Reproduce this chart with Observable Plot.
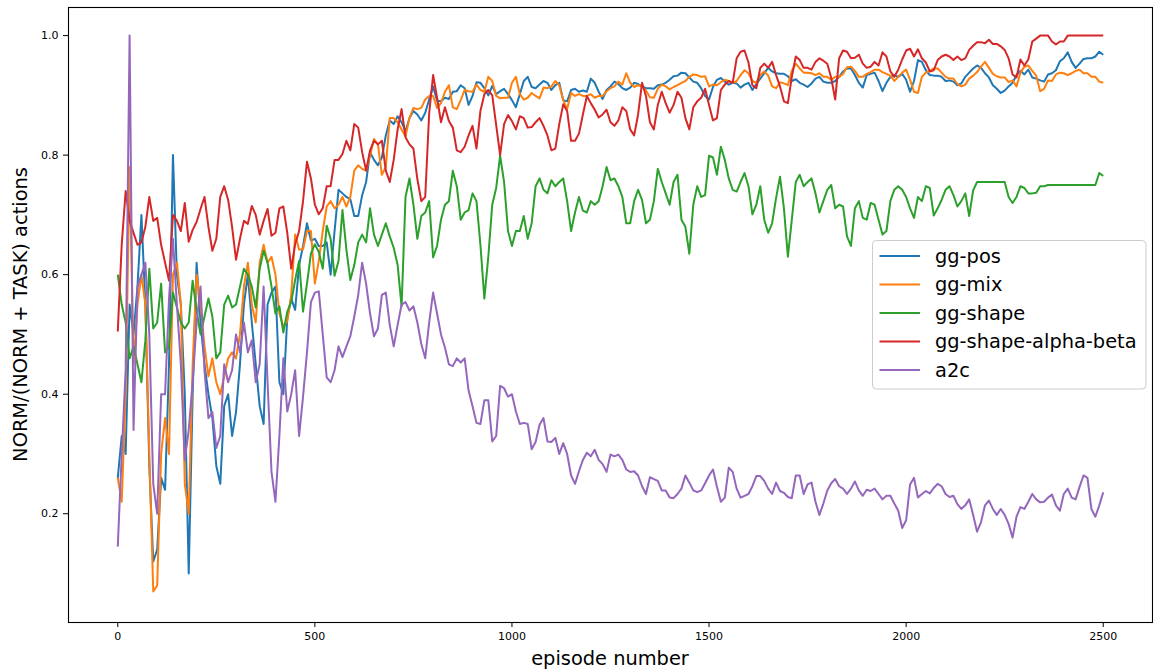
<!DOCTYPE html>
<html>
<head>
<meta charset="utf-8">
<script src="https://cdn.jsdelivr.net/npm/d3@7"></script>
<script src="https://cdn.jsdelivr.net/npm/@observablehq/plot@0.6"></script>
<style>
  html, body { margin: 0; padding: 0; background: #fff; }
  #chart svg { display: block; }
</style>
</head>
<body>
<div id="chart"></div>
<script>
// One sample every 10 episodes, 0 to 2500.
const episodes = d3.range(0, 2501, 10);

const seriesNames = ["gg-pos", "gg-mix", "gg-shape", "gg-shape-alpha-beta", "a2c"];
const seriesColors = ["#1f77b4", "#ff7f0e", "#2ca02c", "#d62728", "#9467bd"];

const xTicks = [0, 500, 1000, 1500, 2000, 2500];
const yTicks = [0.2, 0.4, 0.6, 0.8, 1.0];

// Fraction of NORM actions, one row per 100 episodes.
const ggPos = [
  .26, .33, .30, .55, .50, .58, .70, .55, .28, .12,
  .14, .26, .24, .45, .80, .60, .55, .40, .10, .40,
  .62, .52, .45, .40, .36, .28, .25, .38, .40, .33,
  .37, .45, .55, .60, .52, .45, .38, .35, .55, .57,
  .58, .42, .40, .528, .56, .541, .616, .648, .686, .657,
  .66, .648, .648, .654, .60, .673, .742, .736, .73, .726,
  .698, .698, .733, .755, .805, .792, .783, .796, .833, .858,
  .852, .865, .855, .84, .862, .874, .868, .858, .871, .893,
  .915, .891, .89, .896, .894, .906, .907, .917, .912, .884,
  .899, .922, .921, .912, .90, .916, .902, .907, .911, .902,
  .892, .88, .902, .924, .931, .914, .912, .918, .924, .921,
  .909, .917, .921, .892, .89, .909, .911, .906, .908, .906,
  .928, .921, .906, .894, .909, .915, .923, .919, .912, .909,
  .913, .921, .919, .915, .912, .912, .911, .917, .918, .921,
  .926, .932, .933, .938, .937, .93, .923, .921, .912, .899,
  .893, .914, .926, .929, .923, .918, .921, .92, .913, .918,
  .921, .909, .919, .928, .937, .946, .94, .937, .936, .936,
  .932, .924, .927, .921, .918, .914, .92, .928, .931, .923,
  .921, .921, .924, .931, .94, .945, .945, .934, .921, .913,
  .934, .936, .938, .924, .907, .921, .931, .934, .931, .936,
  .926, .906, .924, .959, .956, .942, .934, .933, .933, .931,
  .924, .925, .923, .917, .92, .931, .938, .945, .95, .946,
  .937, .93, .917, .911, .904, .908, .915, .921, .934, .941,
  .935, .943, .93, .928, .925, .923, .935, .937, .942, .957,
  .962, .972, .956, .946, .953, .961, .962, .962, .965, .973,
  .968
];

const ggMix = [
  .26, .22, .40, .78, .45, .55, .60, .55, .30, .07,
  .08, .30, .36, .30, .60, .62, .55, .25, .20, .45,
  .60, .55, .48, .43, .46, .42, .40, .43, .46, .47,
  .46, .50, .58, .62, .55, .52, .62, .65, .62, .63,
  .60, .535, .513, .522, .566, .667, .642, .642, .673, .673,
  .585, .623, .673, .714, .723, .711, .717, .73, .714, .73,
  .774, .783, .777, .774, .799, .827, .818, .767, .78, .862,
  .862, .855, .843, .831, .862, .879, .877, .879, .893, .899,
  .899, .879, .887, .906, .917, .88, .877, .892, .909, .907,
  .906, .918, .909, .906, .931, .924, .899, .895, .896, .896,
  .921, .931, .902, .893, .896, .904, .899, .895, .913, .912,
  .915, .924, .917, .892, .877, .904, .899, .902, .899, .899,
  .902, .896, .899, .899, .907, .912, .915, .923, .918, .937,
  .921, .914, .917, .915, .908, .897, .896, .911, .918, .915,
  .91, .914, .917, .921, .924, .931, .935, .934, .931, .932,
  .915, .918, .917, .922, .926, .924, .921, .924, .934, .942,
  .937, .924, .921, .934, .94, .933, .915, .912, .922, .92,
  .917, .941, .953, .945, .938, .938, .937, .934, .937, .931,
  .931, .926, .931, .931, .936, .947, .948, .941, .931, .931,
  .936, .939, .943, .943, .939, .936, .933, .924, .931, .938,
  .943, .926, .906, .904, .931, .938, .941, .945, .945, .938,
  .931, .928, .928, .919, .915, .918, .928, .933, .939, .948,
  .956, .946, .936, .932, .93, .93, .922, .925, .915, .938,
  .948, .95, .941, .933, .907, .911, .925, .924, .935, .938,
  .937, .934, .937, .941, .943, .937, .937, .931, .931, .923,
  .921
];

const ggShape = [
  .60, .55, .52, .46, .48, .45, .42, .49, .61, .51,
  .52, .585, .47, .48, .57, .545, .52, .51, .52, .59,
  .54, .50, .53, .56, .53, .46, .47, .55, .565, .545,
  .55, .58, .61, .60, .58, .545, .61, .64, .62, .58,
  .535, .547, .503, .538, .554, .591, .623, .538, .585, .635,
  .651, .638, .61, .682, .66, .598, .623, .708, .642, .591,
  .616, .654, .667, .654, .711, .667, .648, .667, .686, .664,
  .645, .616, .547, .73, .761, .717, .66, .698, .704, .723,
  .629, .648, .692, .717, .723, .774, .748, .692, .704, .708,
  .736, .723, .65, .56, .63, .717, .745, .799, .755, .673,
  .648, .673, .673, .698, .66, .686, .748, .761, .742, .736,
  .758, .748, .755, .761, .723, .673, .704, .73, .707, .704,
  .723, .717, .723, .748, .78, .758, .761, .748, .73, .686,
  .686, .723, .742, .725, .686, .692, .723, .777, .755, .736,
  .717, .755, .767, .692, .68, .635, .717, .748, .73, .733,
  .799, .796, .767, .814, .792, .761, .742, .739, .755, .77,
  .748, .701, .717, .748, .692, .67, .686, .728, .764, .711,
  .63, .692, .755, .767, .748, .755, .761, .736, .704, .723,
  .742, .75, .711, .717, .714, .664, .648, .711, .723, .695,
  .692, .72, .717, .692, .667, .673, .723, .742, .748, .742,
  .73, .711, .695, .73, .723, .748, .745, .699, .711, .725,
  .742, .748, .733, .714, .723, .736, .698, .741, .755, .755,
  .755, .755, .755, .755, .755, .755, .73, .72, .73, .748,
  .745, .736, .736, .737, .748, .748, .75, .75, .75, .75,
  .75, .75, .75, .75, .75, .75, .75, .75, .75, .77,
  .765
];

const ggShapeAlphaBeta = [
  .505, .65, .74, .69, .67, .65, .654, .68, .73, .69,
  .695, .65, .62, .59, .70, .69, .673, .72, .655, .675,
  .688, .71, .73, .68, .64, .66, .73, .748, .725, .68,
  .625, .66, .69, .685, .715, .70, .667, .69, .71, .665,
  .67, .711, .714, .67, .61, .651, .673, .723, .789, .761,
  .717, .701, .711, .748, .748, .792, .792, .802, .824, .808,
  .852, .846, .805, .774, .808, .824, .818, .824, .774, .755,
  .792, .843, .877, .83, .818, .811, .76, .723, .73, .87,
  .934, .896, .855, .88, .857, .846, .808, .805, .814, .833,
  .849, .811, .874, .902, .909, .90, .85, .80, .852, .867,
  .857, .843, .865, .862, .846, .847, .855, .862, .849, .833,
  .808, .811, .852, .885, .874, .824, .824, .836, .868, .899,
  .887, .876, .863, .868, .876, .855, .849, .858, .88, .874,
  .843, .833, .868, .921, .899, .855, .843, .884, .906, .887,
  .871, .884, .906, .896, .862, .843, .88, .89, .896, .911,
  .884, .858, .862, .909, .918, .924, .921, .962, .973, .975,
  .955, .917, .912, .946, .953, .946, .956, .934, .915, .89,
  .887, .931, .965, .959, .946, .946, .943, .956, .962, .958,
  .953, .929, .893, .962, .975, .973, .962, .963, .968, .953,
  .946, .948, .956, .95, .972, .965, .94, .931, .943, .96,
  .975, .978, .965, .977, .962, .955, .94, .942, .959, .965,
  .968, .965, .959, .965, .959, .962, .976, .983, .989, .989,
  .987, .993, .986, .986, .982, .976, .962, .935, .93, .96,
  .95, .96, .99, .995, 1.0, 1.0, 1.0, .99, .985, .99,
  .99, 1.0, 1.0, 1.0, 1.0, 1.0, 1.0, 1.0, 1.0, 1.0,
  1.0
];

const a2c = [
  .145, .30, .44, 1.0, .34, .58, .60, .62, .50, .25,
  .20, .40, .40, .56, .66, .55, .45, .29, .34, .42,
  .52, .58, .44, .36, .37, .31, .33, .45, .42, .44,
  .50, .47, .52, .47, .49, .42, .45, .58, .42, .27,
  .22, .33, .46, .371, .40, .44, .33, .396, .47, .554,
  .57, .572, .50, .428, .42, .44, .48, .462, .48, .497,
  .53, .566, .62, .585, .535, .497, .51, .566, .57, .516,
  .48, .516, .55, .554, .54, .547, .52, .484, .46, .52,
  .57, .535, .50, .478, .45, .447, .46, .453, .46, .406,
  .38, .352, .35, .39, .39, .321, .33, .414, .41, .396,
  .40, .371, .35, .352, .35, .308, .32, .349, .36, .321,
  .32, .327, .30, .318, .30, .264, .25, .271, .29, .302,
  .296, .307, .29, .283, .27, .299, .296, .299, .29, .274,
  .27, .271, .264, .246, .233, .261, .258, .255, .239, .239,
  .227, .226, .233, .242, .264, .252, .239, .236, .239, .251,
  .264, .274, .245, .22, .227, .277, .27, .242, .227, .23,
  .233, .246, .263, .263, .255, .242, .233, .252, .238, .235,
  .228, .226, .264, .264, .233, .249, .252, .22, .198, .217,
  .239, .251, .258, .246, .242, .233, .242, .254, .239, .23,
  .24, .238, .242, .233, .224, .23, .23, .217, .205, .176,
  .189, .249, .26, .227, .233, .238, .234, .243, .25, .246,
  .233, .228, .23, .216, .208, .214, .224, .198, .17, .186,
  .214, .222, .208, .198, .208, .198, .183, .16, .195, .211,
  .208, .22, .233, .224, .219, .22, .227, .232, .214, .205,
  .233, .242, .227, .224, .245, .264, .26, .208, .195, .214,
  .236
];

const seriesValues = [ggPos, ggMix, ggShape, ggShapeAlphaBeta, a2c];

// Long-format rows, one per (series, episode).
const rows = seriesNames.flatMap((name, s) =>
  episodes.map((episode, i) => ({series: name, episode, value: seriesValues[s][i]}))
    .filter(d => d.value != null)
);

const W = 1153, H = 670;
const M = {top: 7, right: 1, bottom: 48, left: 68};
const font = "'DejaVu Sans', 'Liberation Sans', sans-serif";

const chart = Plot.plot({
  width: W,
  height: H,
  marginTop: M.top,
  marginRight: M.right,
  marginBottom: M.bottom,
  marginLeft: M.left,
  style: {fontFamily: font, fontSize: "11px", color: "#000", background: "#fff", overflow: "visible"},
  x: {
    domain: [-125, 2625],
    ticks: xTicks,
    tickSize: 5,
    tickPadding: 5,
    tickFormat: d => String(d),
    label: null
  },
  y: {
    domain: [0.018, 1.047],
    ticks: yTicks,
    tickSize: 5,
    tickPadding: 5,
    tickFormat: d3.format(".1f"),
    label: null
  },
  color: {domain: seriesNames, range: seriesColors},
  marks: [
    ...seriesNames.map(name =>
      Plot.line(rows.filter(r => r.series === name), {
        x: "episode",
        y: "value",
        stroke: "series",
        strokeWidth: 2,
        strokeLinejoin: "round",
        strokeLinecap: "butt"
      })
    ),
    Plot.frame({stroke: "#000", strokeWidth: 1.1})
  ]
});

document.getElementById("chart").appendChild(chart);

const svg = d3.select(chart);

// Axis titles
svg.append("text")
  .attr("x", (M.left + W - M.right) / 2)
  .attr("y", 665)
  .attr("text-anchor", "middle")
  .attr("fill", "#000")
  .style("font-family", font)
  .style("font-size", "19.4px")
  .text("episode number");

svg.append("text")
  .attr("transform", `translate(27,${(M.top + H - M.bottom) / 2}) rotate(-90)`)
  .attr("text-anchor", "middle")
  .attr("fill", "#000")
  .style("font-family", font)
  .style("font-size", "19.4px")
  .text("NORM/(NORM + TASK) actions");

// Legend box in the right half of the axes
const legend = svg.append("g")
  .attr("transform", "translate(872.5,240.5)")
  .attr("text-anchor", "start");
legend.append("rect")
  .attr("width", 273.5)
  .attr("height", 148.5)
  .attr("rx", 4)
  .attr("fill", "#fff")
  .attr("fill-opacity", 0.8)
  .attr("stroke", "#cccccc")
  .attr("stroke-width", 1);

seriesNames.forEach((name, i) => {
  const cy = 15.5 + i * 28.5;
  legend.append("line")
    .attr("x1", 7).attr("x2", 47.5)
    .attr("y1", cy).attr("y2", cy)
    .attr("stroke", seriesColors[i])
    .attr("stroke-width", 2);
  legend.append("text")
    .attr("x", 62.5)
    .attr("y", cy)
    .attr("dy", "0.35em")
    .attr("text-anchor", "start")
    .attr("fill", "#000")
    .style("font-family", font)
    .style("font-size", "19.4px")
    .text(name);
});
</script>
</body>
</html>
